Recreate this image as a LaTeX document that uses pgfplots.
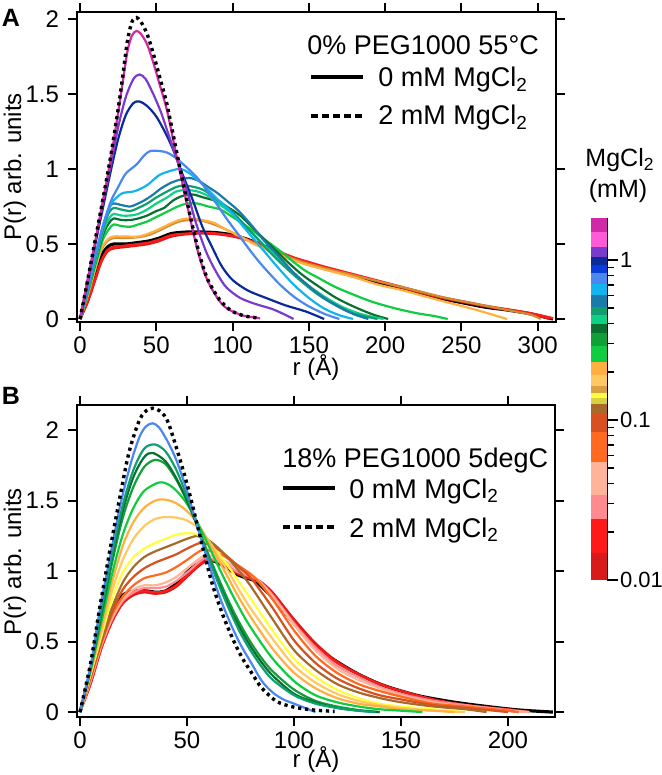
\documentclass[border=0pt]{standalone}
\usepackage{fontspec}
\setmainfont{Liberation Sans}
\usepackage{pgfplots}
\pgfplotsset{compat=1.18}

\definecolor{cMag}{HTML}{D02AA8}
\definecolor{cPink}{HTML}{FF5AD8}
\definecolor{cPur}{HTML}{7A3ACC}
\definecolor{cNavy}{HTML}{0A2A9A}
\definecolor{cBlue}{HTML}{0A3AD8}
\definecolor{cCorn}{HTML}{4A88F0}
\definecolor{cSky}{HTML}{12B4F0}
\definecolor{cTeal}{HTML}{1A7AA8}
\definecolor{cSea}{HTML}{10A070}
\definecolor{cMint}{HTML}{10D088}
\definecolor{cDkGr}{HTML}{0A7030}
\definecolor{cGr}{HTML}{10A038}
\definecolor{cBrGr}{HTML}{10CC40}
\definecolor{cOr}{HTML}{FFB040}
\definecolor{cLtOr}{HTML}{FFC860}
\definecolor{cTan}{HTML}{D8A040}
\definecolor{cYel}{HTML}{FFFF40}
\definecolor{cOliv}{HTML}{D8D040}
\definecolor{cBrown}{HTML}{A86A28}
\definecolor{cRust}{HTML}{D85020}
\definecolor{cOrRed}{HTML}{FF6A20}
\definecolor{cPeach}{HTML}{FFB49A}
\definecolor{cPinkR}{HTML}{FF8A90}
\definecolor{cRed}{HTML}{FF1A1A}
\definecolor{cDkRed}{HTML}{D81A1A}
\definecolor{cBrOr}{HTML}{D08A30}

\pgfplotsset{
  panel/.style={
    scale only axis, anchor=south west,
    axis line style={line width=1pt},
    tick align=outside,
    major tick length=4.5pt,
    every tick/.style={line width=1pt,black},
    xtick pos=both, ytick pos=both,
    xticklabel pos=left, yticklabel pos=left,
    tick label style={font=\fontsize{12}{14}\selectfont},
    xticklabel style={inner sep=0pt, yshift=-2.5pt},
    yticklabel style={xshift=-1pt},
    /pgf/number format/assume math mode=true,
  },
  cv/.style={smooth, tension=0.5, line width=1.1pt, no markers, #1},
  dotc/.style={smooth, tension=0.5, line width=1.7pt, no markers, black, dash pattern=on 1.6pt off 1.9pt},
}

\begin{document}
\begin{tikzpicture}
\path[use as bounding box] (0,0) rectangle (330.5pt,-387.5pt);

% ---------------- Panel A ----------------
\begin{axis}[panel, at={(38.5pt,-161pt)}, width=239.5pt, height=155pt,
  xmin=-2, xmax=312, ymin=-0.02, ymax=2.047,
  xtick={0,50,...,300}, ytick={0,0.5,1,1.5,2}]
\addplot[cv={black,line width=1.6pt}] coordinates {(0,0)(5,0.14)(10,0.3)(14,0.42)(18,0.48)(22,0.5)(30,0.5)(38,0.51)(45,0.52)(52,0.54)(60,0.57)(70,0.58)(80,0.58)(90,0.575)(100,0.56)(110,0.53)(120,0.49)(130,0.44)(140,0.4)(150,0.37)(160,0.34)(175,0.3)(190,0.26)(205,0.22)(220,0.18)(235,0.14)(250,0.11)(265,0.08)(280,0.06)(295,0.035)(310,0)};
\addplot[cv=cDkRed] coordinates {(0,0)(5,0.11)(10,0.26)(14,0.38)(18,0.45)(22,0.47)(30,0.48)(38,0.49)(45,0.5)(52,0.52)(60,0.55)(70,0.565)(80,0.57)(90,0.565)(100,0.55)(110,0.525)(120,0.49)(130,0.45)(140,0.41)(150,0.375)(160,0.345)(175,0.305)(190,0.265)(205,0.225)(220,0.185)(235,0.145)(250,0.115)(265,0.085)(280,0.06)(295,0.035)(308,0)};
\addplot[cv=cRed] coordinates {(0,0)(5,0.12)(10,0.27)(14,0.39)(18,0.46)(22,0.48)(30,0.49)(38,0.5)(45,0.51)(52,0.53)(60,0.56)(70,0.57)(80,0.575)(90,0.57)(100,0.555)(110,0.53)(120,0.49)(130,0.45)(140,0.41)(150,0.38)(160,0.35)(175,0.31)(190,0.27)(205,0.23)(220,0.19)(235,0.15)(250,0.12)(265,0.09)(280,0.065)(295,0.04)(310,0.005)};
\addplot[cv=cBrOr] coordinates {(0,0)(5,0.15)(10,0.33)(14,0.46)(18,0.52)(22,0.54)(30,0.54)(38,0.545)(45,0.56)(52,0.59)(58,0.62)(65,0.65)(72,0.66)(80,0.655)(88,0.63)(95,0.6)(105,0.55)(115,0.5)(125,0.46)(135,0.42)(146,0.38)(160,0.34)(180,0.29)(200,0.24)(220,0.19)(240,0.14)(260,0.1)(280,0.06)(295,0.03)(302,0)};
\addplot[cv=cOr] coordinates {(0,0)(5,0.16)(10,0.34)(14,0.47)(18,0.53)(22,0.55)(30,0.55)(38,0.55)(45,0.57)(52,0.6)(58,0.63)(65,0.66)(72,0.67)(80,0.66)(88,0.64)(95,0.6)(105,0.55)(114,0.5)(125,0.45)(135,0.41)(146,0.37)(160,0.33)(179,0.28)(195,0.23)(212,0.19)(230,0.14)(245,0.1)(260,0.06)(270,0.03)(280,0)};
\addplot[cv=cBrGr] coordinates {(0,0)(5,0.17)(10,0.36)(15,0.53)(19,0.6)(22,0.63)(27,0.62)(33,0.615)(38,0.63)(44,0.65)(50,0.68)(57,0.715)(64,0.75)(70,0.77)(77,0.77)(84,0.75)(92,0.73)(100,0.68)(109,0.62)(117,0.56)(125,0.5)(133,0.44)(140,0.38)(148,0.32)(157,0.27)(166,0.22)(175,0.18)(190,0.12)(205,0.075)(220,0.04)(232,0.02)(241,0)};
\addplot[cv=cDkGr] coordinates {(0,0)(5,0.18)(10,0.37)(15,0.56)(19,0.64)(22,0.67)(27,0.66)(33,0.66)(38,0.67)(44,0.69)(50,0.72)(55,0.74)(61,0.79)(67,0.82)(74,0.83)(81,0.81)(88,0.79)(96,0.75)(105,0.69)(114,0.6)(124,0.5)(134,0.4)(145,0.3)(156,0.22)(168,0.14)(180,0.08)(192,0.03)(202,0)};
\addplot[cv=cMint] coordinates {(0,0)(5,0.18)(10,0.38)(15,0.58)(19,0.67)(22,0.7)(27,0.69)(33,0.69)(38,0.7)(44,0.73)(50,0.77)(57,0.81)(63,0.85)(70,0.86)(77,0.85)(84,0.82)(92,0.76)(100,0.7)(110,0.6)(120,0.5)(130,0.4)(140,0.3)(150,0.22)(160,0.15)(172,0.08)(185,0.03)(199,0)};
\addplot[cv=cSea] coordinates {(0,0)(5,0.19)(10,0.4)(15,0.6)(19,0.71)(22,0.74)(27,0.73)(33,0.72)(38,0.74)(44,0.77)(50,0.81)(57,0.85)(63,0.88)(68,0.89)(75,0.88)(81,0.86)(88,0.81)(96,0.75)(104,0.67)(114,0.56)(124,0.45)(134,0.35)(144,0.26)(155,0.17)(166,0.1)(178,0.04)(195,0)};
\addplot[cv=cTeal] coordinates {(0,0)(5,0.2)(10,0.42)(15,0.62)(19,0.74)(22,0.77)(27,0.76)(33,0.75)(38,0.77)(42,0.79)(48,0.83)(53,0.87)(60,0.91)(66,0.93)(72,0.94)(78,0.92)(84,0.88)(90,0.84)(96,0.79)(104,0.72)(112,0.63)(120,0.53)(130,0.42)(140,0.31)(150,0.22)(160,0.14)(170,0.08)(180,0.03)(189,0)};
\addplot[cv=cSky] coordinates {(0,0)(5,0.2)(10,0.42)(15,0.62)(20,0.76)(24,0.81)(28,0.84)(35,0.85)(40,0.87)(45,0.9)(52,0.96)(60,0.99)(66,1.0)(72,0.97)(80,0.9)(90,0.8)(100,0.7)(110,0.58)(120,0.46)(130,0.34)(140,0.23)(150,0.14)(160,0.07)(170,0.025)(179,0)};
\addplot[cv=cCorn] coordinates {(0,0)(5,0.21)(10,0.42)(15,0.62)(20,0.78)(25,0.88)(30,0.97)(37,1.03)(42,1.09)(46,1.12)(52,1.12)(57,1.11)(62,1.08)(70,1.01)(77,0.94)(83,0.86)(90,0.76)(96,0.67)(104,0.56)(112,0.45)(120,0.35)(131,0.23)(140,0.15)(149,0.09)(160,0.035)(170,0)};
\addplot[cv=cNavy] coordinates {(0,0)(5,0.25)(10,0.5)(15,0.74)(20,0.98)(25,1.2)(30,1.36)(35,1.44)(39,1.45)(44,1.42)(50,1.35)(56,1.24)(61,1.13)(67,0.97)(74,0.79)(80,0.62)(87,0.47)(93,0.35)(100,0.26)(110,0.19)(122,0.14)(135,0.09)(148,0.05)(160,0)};
\addplot[cv=cPur] coordinates {(0,0)(5,0.26)(10,0.51)(15,0.77)(20,1.02)(25,1.28)(30,1.48)(35,1.6)(39,1.63)(43,1.6)(48,1.5)(53,1.38)(57,1.26)(63,1.08)(70,0.86)(76,0.64)(83,0.44)(90,0.3)(96,0.21)(105,0.14)(115,0.1)(125,0.07)(132,0.04)(140,0)};
\addplot[cv=cMag] coordinates {(0,0)(5,0.26)(10,0.52)(15,0.79)(20,1.06)(25,1.38)(28,1.58)(31,1.78)(34,1.89)(37,1.92)(40,1.9)(44,1.83)(48,1.71)(52,1.57)(57,1.39)(63,1.1)(70,0.77)(77,0.46)(83,0.27)(90,0.14)(95,0.08)(100,0.05)(108,0.02)(118,0.005)};
\addplot[dotc] coordinates {(0,0)(5,0.26)(10,0.53)(15,0.8)(20,1.08)(25,1.4)(28,1.62)(31,1.85)(34,1.98)(37,2.01)(40,1.98)(44,1.9)(48,1.77)(52,1.62)(57,1.43)(63,1.13)(70,0.79)(77,0.48)(83,0.28)(90,0.15)(95,0.09)(100,0.05)(108,0.02)(118,0.005)};
\end{axis}

% ---------------- Panel B ----------------
\begin{axis}[panel, at={(38.5pt,-358.5pt)}, width=239pt, height=156pt,
  xmin=-1.4, xmax=222, ymin=-0.035, ymax=2.18,
  xtick={0,50,...,200}, ytick={0,0.5,1,1.5,2}]
\addplot[cv={black,line width=1.6pt}] coordinates {(0,0)(4,0.22)(9,0.5)(13,0.67)(17,0.78)(21,0.84)(26,0.86)(31,0.86)(36,0.85)(40,0.86)(44,0.9)(48,0.96)(52,1.02)(56,1.06)(59,1.08)(63,1.07)(68,1.03)(73,0.98)(78,0.95)(82,0.93)(87,0.86)(93,0.76)(100,0.63)(108,0.5)(115,0.41)(122,0.34)(130,0.27)(140,0.2)(150,0.15)(160,0.11)(175,0.07)(190,0.04)(205,0.015)(221,0)};
\addplot[cv=cDkRed] coordinates {(0,0)(5,0.2)(10,0.45)(15,0.64)(20,0.77)(25,0.83)(30,0.85)(35,0.84)(40,0.85)(45,0.89)(50,0.96)(55,1.03)(59,1.07)(64,1.07)(69,1.03)(74,0.99)(79,0.96)(84,0.93)(90,0.85)(100,0.66)(110,0.49)(120,0.36)(130,0.27)(140,0.2)(150,0.15)(165,0.09)(180,0.05)(195,0.02)(205,0)};
\addplot[cv=cRed] coordinates {(0,0)(5,0.21)(10,0.46)(15,0.65)(20,0.78)(25,0.84)(30,0.86)(35,0.85)(40,0.86)(45,0.9)(50,0.97)(55,1.04)(59,1.08)(64,1.07)(69,1.03)(74,0.98)(79,0.95)(84,0.92)(90,0.84)(100,0.64)(110,0.47)(120,0.35)(130,0.27)(140,0.2)(150,0.15)(165,0.09)(180,0.05)(200,0.02)(210,0)};
\addplot[cv=cPinkR] coordinates {(0,0)(5,0.22)(10,0.47)(15,0.66)(20,0.79)(25,0.85)(30,0.88)(35,0.88)(40,0.89)(45,0.93)(50,0.99)(58,1.09)(63,1.08)(68,1.05)(73,1.0)(78,0.97)(83,0.94)(90,0.83)(100,0.63)(110,0.46)(120,0.33)(130,0.25)(140,0.18)(150,0.13)(165,0.08)(180,0.05)(200,0.015)(210,0)};
\addplot[cv=cPeach] coordinates {(0,0)(5,0.23)(10,0.48)(15,0.67)(20,0.8)(25,0.87)(30,0.9)(35,0.9)(40,0.92)(45,0.96)(50,1.02)(58,1.11)(63,1.1)(68,1.07)(73,1.02)(78,0.98)(83,0.94)(90,0.82)(100,0.62)(110,0.44)(120,0.31)(130,0.23)(140,0.17)(150,0.12)(165,0.07)(180,0.04)(200,0.01)(210,0)};
\addplot[cv=cOrRed] coordinates {(0,0)(5,0.24)(10,0.49)(15,0.69)(20,0.82)(25,0.9)(30,0.95)(35,0.97)(40,0.99)(45,1.03)(50,1.08)(57,1.15)(62,1.14)(67,1.11)(72,1.06)(77,1.01)(82,0.95)(90,0.8)(100,0.58)(110,0.4)(120,0.28)(130,0.2)(140,0.15)(150,0.11)(165,0.06)(180,0.04)(200,0.01)(205,0)};
\addplot[cv=cRust] coordinates {(0,0)(5,0.25)(10,0.5)(15,0.71)(20,0.87)(25,0.96)(30,1.02)(35,1.06)(40,1.09)(45,1.12)(50,1.16)(56,1.2)(60,1.19)(65,1.15)(70,1.09)(75,1.02)(80,0.95)(90,0.74)(100,0.51)(110,0.35)(120,0.24)(130,0.17)(140,0.12)(150,0.09)(165,0.05)(180,0.03)(200,0)};
\addplot[cv=cBrown] coordinates {(0,0)(5,0.26)(10,0.51)(15,0.74)(20,0.92)(25,1.03)(30,1.1)(35,1.14)(40,1.17)(45,1.2)(50,1.23)(55,1.25)(60,1.22)(65,1.16)(70,1.08)(75,0.99)(80,0.89)(90,0.66)(100,0.44)(110,0.3)(120,0.2)(130,0.14)(140,0.1)(150,0.07)(165,0.04)(180,0.02)(190,0)};
\addplot[cv=cYel] coordinates {(0,0)(5,0.27)(10,0.54)(15,0.8)(20,0.99)(25,1.1)(30,1.16)(35,1.2)(40,1.23)(45,1.26)(50,1.27)(55,1.26)(60,1.2)(65,1.12)(70,1.02)(75,0.91)(80,0.8)(90,0.58)(100,0.38)(110,0.25)(120,0.16)(130,0.1)(140,0.06)(150,0.04)(165,0.02)(180,0)};
\addplot[cv=cLtOr] coordinates {(0,0)(5,0.28)(10,0.57)(15,0.86)(20,1.08)(25,1.23)(30,1.32)(35,1.37)(40,1.385)(45,1.38)(50,1.36)(55,1.31)(60,1.22)(65,1.1)(70,0.98)(75,0.85)(80,0.73)(90,0.52)(100,0.33)(110,0.21)(120,0.13)(130,0.08)(140,0.05)(150,0.03)(165,0.01)(180,0)};
\addplot[cv=cOr] coordinates {(0,0)(5,0.29)(10,0.6)(15,0.92)(20,1.18)(25,1.35)(30,1.45)(35,1.5)(39,1.51)(44,1.49)(49,1.44)(54,1.36)(59,1.24)(64,1.1)(69,0.96)(74,0.82)(80,0.67)(90,0.45)(100,0.28)(110,0.17)(120,0.1)(130,0.06)(140,0.04)(150,0.02)(165,0.01)(175,0)};
\addplot[cv=cBrGr] coordinates {(0,0)(5,0.3)(10,0.64)(15,0.98)(20,1.26)(25,1.45)(30,1.57)(37,1.63)(42,1.61)(47,1.54)(52,1.43)(57,1.28)(62,1.12)(67,0.96)(72,0.81)(77,0.67)(82,0.55)(90,0.38)(100,0.22)(110,0.12)(120,0.07)(130,0.04)(140,0.02)(150,0.01)(160,0)};
\addplot[cv=cGr] coordinates {(0,0)(5,0.31)(10,0.68)(15,1.06)(20,1.38)(25,1.6)(30,1.74)(35,1.79)(40,1.76)(45,1.65)(50,1.5)(55,1.32)(60,1.12)(65,0.94)(70,0.77)(75,0.62)(80,0.49)(85,0.38)(90,0.29)(100,0.16)(110,0.08)(120,0.04)(130,0.015)(140,0)};
\addplot[cv=cDkGr] coordinates {(0,0)(5,0.32)(10,0.7)(15,1.1)(20,1.43)(25,1.67)(30,1.81)(34,1.84)(40,1.78)(45,1.66)(50,1.5)(55,1.31)(60,1.1)(65,0.91)(70,0.74)(75,0.59)(80,0.46)(85,0.35)(90,0.26)(100,0.13)(110,0.07)(120,0.03)(130,0.01)(140,0)};
\addplot[cv=cSea] coordinates {(0,0)(5,0.32)(10,0.72)(15,1.12)(20,1.47)(25,1.72)(30,1.87)(35,1.9)(40,1.85)(45,1.72)(50,1.53)(55,1.32)(60,1.1)(65,0.9)(70,0.72)(75,0.56)(80,0.43)(85,0.32)(90,0.23)(100,0.12)(110,0.06)(120,0.03)(130,0.01)(138,0)};
\addplot[cv=cCorn] coordinates {(0,0)(5,0.33)(9,0.7)(14,1.1)(19,1.48)(24,1.78)(28,1.96)(31,2.03)(34,2.05)(37,2.02)(41,1.92)(45,1.79)(50,1.57)(55,1.31)(60,1.06)(65,0.83)(70,0.64)(75,0.48)(80,0.35)(85,0.22)(90,0.14)(95,0.09)(100,0.06)(105,0.03)(110,0)};
\addplot[dotc] coordinates {(0,0)(5,0.35)(9,0.72)(14,1.15)(18.7,1.53)(23,1.85)(28,2.08)(32,2.15)(36,2.15)(40.5,2.08)(45,1.88)(50,1.62)(54,1.38)(58,1.13)(62,0.9)(67,0.68)(72,0.5)(76,0.38)(81,0.26)(85,0.17)(92,0.075)(100,0.035)(109,0.015)(119,0.005)};
\end{axis}

% ---------------- Colour bar ----------------
\begin{axis}[at={(295.5pt,-290pt)}, anchor=south west, scale only axis,
  width=8pt, height=181pt, ymode=log, xmin=0, xmax=1, ymin=0.01, ymax=1.83,
  hide x axis, axis y line*=right, y axis line style={line width=1pt},
  tick align=outside, major tick length=5.5pt, minor tick length=3.5pt,
  every tick/.style={line width=0.8pt,black},
  ytick={0.01,0.1,1}, yticklabels={0.01,0.1,1},
  minor ytick={0.02,0.03,0.04,0.05,0.06,0.07,0.08,0.09,0.2,0.3,0.4,0.5,0.6,0.7,0.8,0.9},
  yticklabel style={font=\fontsize{11}{13}\selectfont, xshift=-2.5pt}]
\addplot[fill=cMag,draw=none] coordinates {(0,1.5)(1,1.5)(1,1.83)(0,1.83)} -- cycle;
\addplot[fill=cPink,draw=none] coordinates {(0,1.21)(1,1.21)(1,1.5)(0,1.5)} -- cycle;
\addplot[fill=cPur,draw=none] coordinates {(0,1.04)(1,1.04)(1,1.21)(0,1.21)} -- cycle;
\addplot[fill=cNavy,draw=none] coordinates {(0,0.93)(1,0.93)(1,1.04)(0,1.04)} -- cycle;
\addplot[fill=cBlue,draw=none] coordinates {(0,0.83)(1,0.83)(1,0.93)(0,0.93)} -- cycle;
\addplot[fill=cCorn,draw=none] coordinates {(0,0.71)(1,0.71)(1,0.83)(0,0.83)} -- cycle;
\addplot[fill=cSky,draw=none] coordinates {(0,0.6)(1,0.6)(1,0.71)(0,0.71)} -- cycle;
\addplot[fill=cTeal,draw=none] coordinates {(0,0.51)(1,0.51)(1,0.6)(0,0.6)} -- cycle;
\addplot[fill=cSea,draw=none] coordinates {(0,0.45)(1,0.45)(1,0.51)(0,0.51)} -- cycle;
\addplot[fill=cMint,draw=none] coordinates {(0,0.4)(1,0.4)(1,0.45)(0,0.45)} -- cycle;
\addplot[fill=cDkGr,draw=none] coordinates {(0,0.35)(1,0.35)(1,0.4)(0,0.4)} -- cycle;
\addplot[fill=cGr,draw=none] coordinates {(0,0.29)(1,0.29)(1,0.35)(0,0.35)} -- cycle;
\addplot[fill=cBrGr,draw=none] coordinates {(0,0.23)(1,0.23)(1,0.29)(0,0.29)} -- cycle;
\addplot[fill=cOr,draw=none] coordinates {(0,0.19)(1,0.19)(1,0.23)(0,0.23)} -- cycle;
\addplot[fill=cLtOr,draw=none] coordinates {(0,0.163)(1,0.163)(1,0.19)(0,0.19)} -- cycle;
\addplot[fill=cTan,draw=none] coordinates {(0,0.148)(1,0.148)(1,0.163)(0,0.163)} -- cycle;
\addplot[fill=cYel,draw=none] coordinates {(0,0.137)(1,0.137)(1,0.148)(0,0.148)} -- cycle;
\addplot[fill=cOliv,draw=none] coordinates {(0,0.126)(1,0.126)(1,0.137)(0,0.137)} -- cycle;
\addplot[fill=cBrown,draw=none] coordinates {(0,0.11)(1,0.11)(1,0.126)(0,0.126)} -- cycle;
\addplot[fill=cRust,draw=none] coordinates {(0,0.084)(1,0.084)(1,0.11)(0,0.11)} -- cycle;
\addplot[fill=cOrRed,draw=none] coordinates {(0,0.055)(1,0.055)(1,0.084)(0,0.084)} -- cycle;
\addplot[fill=cPeach,draw=none] coordinates {(0,0.034)(1,0.034)(1,0.055)(0,0.055)} -- cycle;
\addplot[fill=cPinkR,draw=none] coordinates {(0,0.024)(1,0.024)(1,0.034)(0,0.034)} -- cycle;
\addplot[fill=cRed,draw=none] coordinates {(0,0.0148)(1,0.0148)(1,0.024)(0,0.024)} -- cycle;
\addplot[fill=cDkRed,draw=none] coordinates {(0,0.01)(1,0.01)(1,0.0148)(0,0.0148)} -- cycle;
\end{axis}

% ---------------- Text, legends (pixel coordinates) ----------------
\begin{scope}[x=0.5pt,y=-0.5pt]
\node[font=\fontsize{12.5}{14}\selectfont\bfseries] at (11,18) {A};
\node[font=\fontsize{12.5}{14}\selectfont\bfseries] at (11,396) {B};
\node[font=\fontsize{12}{14}\selectfont,rotate=90] at (15,167) {P(r) arb. units};
\node[font=\fontsize{12}{14}\selectfont,rotate=90] at (15,562) {P(r) arb. units};
\node[font=\fontsize{12}{14}\selectfont,inner sep=0pt] at (316,368) {r (Å)};
\node[font=\fontsize{12}{14}\selectfont,inner sep=0pt] at (316,760) {r (Å)};
% legend A
\node[font=\fontsize{13.5}{15}\selectfont,anchor=base west,inner sep=0] at (307,55) {0\% PEG1000 55°C};
\draw[black,line width=2pt] (311,77) -- (363,77);
\draw[black,line width=1.8pt,dash pattern=on 3.5pt off 2pt] (311,116) -- (363,116);
\node[font=\fontsize{13.5}{15}\selectfont,anchor=base west,inner sep=0] at (378,87) {0 mM MgCl\textsubscript{2}};
\node[font=\fontsize{13.5}{15}\selectfont,anchor=base west,inner sep=0] at (378,125) {2 mM MgCl\textsubscript{2}};
% legend B
\node[font=\fontsize{13.5}{15}\selectfont,anchor=base west,inner sep=0] at (282,467) {18\% PEG1000 5degC};
\draw[black,line width=2pt] (283,488) -- (335,488);
\draw[black,line width=1.8pt,dash pattern=on 3.5pt off 2pt] (283,527) -- (335,527);
\node[font=\fontsize{13.5}{15}\selectfont,anchor=base west,inner sep=0] at (349,498) {0 mM MgCl\textsubscript{2}};
\node[font=\fontsize{13.5}{15}\selectfont,anchor=base west,inner sep=0] at (349,537) {2 mM MgCl\textsubscript{2}};
% colour bar title
\node[font=\fontsize{12.5}{14}\selectfont] at (620,160) {MgCl\textsubscript{2}};
\node[font=\fontsize{12.5}{14}\selectfont] at (618,191) {(mM)};
\end{scope}
\end{tikzpicture}
\end{document}
